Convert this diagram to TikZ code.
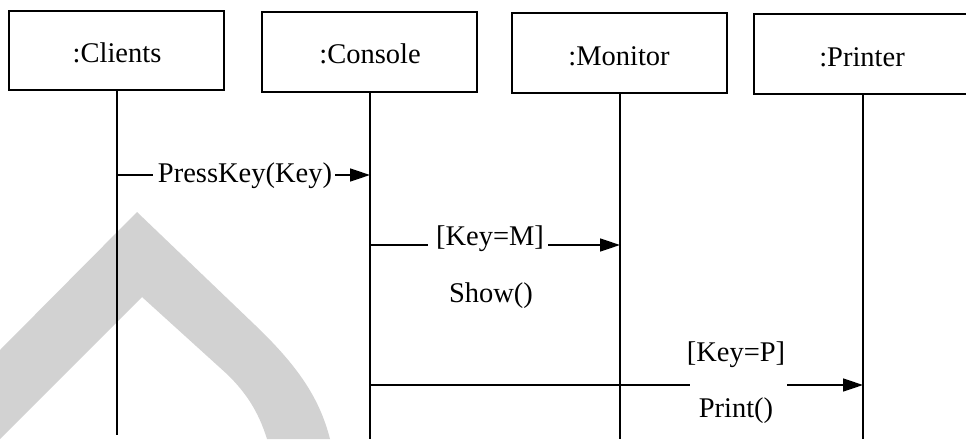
\documentclass[tikz,border=0pt]{standalone}
\usepackage{fontspec}
\setmainfont{Liberation Serif}
\usetikzlibrary{arrows.meta}
\begin{document}
\begin{tikzpicture}[x=1pt,y=-1pt,
  objbox/.style={draw,line width=1.5pt,inner sep=0pt},
  lifeline/.style={line width=1.5pt},
  msg/.style={line width=1.5pt},
  msgarrow/.style={line width=1.5pt,-{Triangle[length=20pt,width=13pt]}},
  lbl/.style={font=\fontsize{28.5}{32}\selectfont,inner sep=0pt,anchor=base},
  chevron/.style={fill=gray!35,draw=none}]
\useasboundingbox (0,0) rectangle (966,439);
% light grey chevron behind the diagram
\fill[chevron] (0,350) -- (137,212) -- (255,325)
  .. controls (300,368) and (320,400) .. (330,439) -- (267,439)
  .. controls (258,410) and (245,392) .. (228,375) -- (142,297) -- (0,439) -- cycle;
% object heads
\draw[objbox] (9,11) rectangle (224,90);
\draw[objbox] (262,12) rectangle (477,92);
\draw[objbox] (512,13) rectangle (727,93);
\draw[objbox] (754,14) rectangle (975,94);
\node[lbl] (tClients) at (117,62) {:Clients};
\node[lbl] (tConsole) at (370,63) {:Console};
\node[lbl] (tMonitor) at (619,65) {:Monitor};
\node[lbl] (tPrinter) at (862,66) {:Printer};
% lifelines
\coordinate (clTop) at (117,90);  \coordinate (clEnd) at (117,435);
\coordinate (coTop) at (370,92);  \coordinate (coEnd) at (370,439);
\coordinate (moTop) at (620,93);  \coordinate (moEnd) at (620,439);
\coordinate (prTop) at (863,94);  \coordinate (prEnd) at (863,439);
\draw[lifeline] (clTop) -- (clEnd);
\draw[lifeline] (coTop) -- (coEnd);
\draw[lifeline] (moTop) -- (moEnd);
\draw[lifeline] (prTop) -- (prEnd);
% message 1: Clients -> Console
\node[lbl] (m1) at (245,182) {PressKey(Key)};
\coordinate (m1a) at (117,175); \coordinate (m1b) at (153,175);
\coordinate (m1c) at (335,175); \coordinate (m1d) at (370,175);
\draw[msg] (m1a) -- (m1b);
\draw[msgarrow] (m1c) -- (m1d);
% message 2: Console -> Monitor
\node[lbl] (m2) at (490,245) {[Key=M]};
\node[lbl] (m2op) at (491,302) {Show()};
\coordinate (m2a) at (370,245); \coordinate (m2b) at (428,245);
\coordinate (m2c) at (548,245); \coordinate (m2d) at (620,245);
\draw[msg] (m2a) -- (m2b);
\draw[msgarrow] (m2c) -- (m2d);
% message 3: Console -> Printer
\node[lbl] (m3) at (736,361) {[Key=P]};
\node[lbl] (m3op) at (736,417) {Print()};
\coordinate (m3a) at (370,385); \coordinate (m3b) at (690,385);
\coordinate (m3c) at (787,385); \coordinate (m3d) at (863,385);
\draw[msg] (m3a) -- (m3b);
\draw[msgarrow] (m3c) -- (m3d);
\end{tikzpicture}
\end{document}
